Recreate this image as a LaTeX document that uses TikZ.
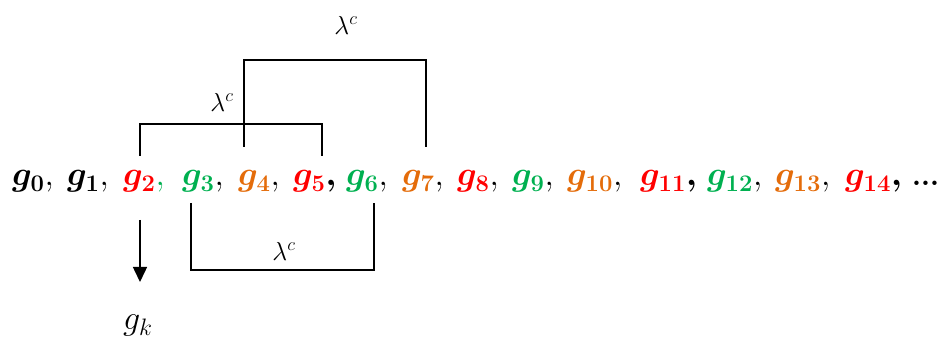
\RequirePackage{fix-cm}
\documentclass[tikz,border=0pt]{standalone}
\usepackage{amsmath,bm}
\usetikzlibrary{arrows.meta}
\definecolor{seqred}{RGB}{255,0,0}
\definecolor{seqgreen}{RGB}{0,176,80}
\definecolor{seqorange}{RGB}{228,108,10}

\begin{document}
\begin{tikzpicture}[
        x=1pt, y=1pt,
        every node/.style={inner sep=0pt},
        term/.style={anchor=base west, font=\fontsize{34}{40}\selectfont},
        lbl/.style={font=\fontsize{26}{30}\selectfont},
        bracket/.style={line width=1.5pt},
        arrow/.style={-{Triangle[length=15pt, width=14pt]}, line width=1.5pt}
    ]
        \useasboundingbox (0,0) rectangle (939,345);

        % Sequence of terms
        \node[term] (g0) at (12,159) {$\bm{g}_{\mathbf{0}},$};
        \node[term] (g1) at (67,159) {$\bm{g}_{\mathbf{1}},$};
        \node[term, text=seqred] (g2) at (123,159) {$\bm{g}_{\mathbf{2}}\textcolor{seqgreen}{,}$};
        \node[term, text=seqgreen] (g3) at (182,159) {$\bm{g}_{\mathbf{3}}\textcolor{black}{,}$};
        \node[term, text=seqorange] (g4) at (238,159) {$\bm{g}_{\mathbf{4}}\textcolor{black}{,}$};
        \node[term, text=seqred] (g5) at (293,159) {$\bm{g}_{\mathbf{5}}\textcolor{black}{\bm{,}}$};
        \node[term, text=seqgreen] (g6) at (346,159) {$\bm{g}_{\mathbf{6}}\textcolor{black}{,}$};
        \node[term, text=seqorange] (g7) at (402,159) {$\bm{g}_{\mathbf{7}}\textcolor{black}{,}$};
        \node[term, text=seqred] (g8) at (457,159) {$\bm{g}_{\mathbf{8}}\textcolor{black}{,}$};
        \node[term, text=seqgreen] (g9) at (512,159) {$\bm{g}_{\mathbf{9}}\textcolor{black}{,}$};
        \node[term, text=seqorange] (g10) at (567,159) {$\bm{g}_{\mathbf{10}}\textcolor{black}{,}$};
        \node[term, text=seqred] (g11) at (640,159) {$\bm{g}_{\mathbf{11}}\textcolor{black}{\bm{,}}$};
        \node[term, text=seqgreen] (g12) at (707,159) {$\bm{g}_{\mathbf{12}}\textcolor{black}{,}$};
        \node[term, text=seqorange] (g13) at (775,159) {$\bm{g}_{\mathbf{13}}\textcolor{black}{,}$};
        \node[term, text=seqred] (g14) at (845,159) {$\bm{g}_{\mathbf{14}}\textcolor{black}{\bm{,}}$};
        \node[term, font=\fontsize{28}{32}\selectfont] (dots) at (912,159) {$\bm{.}\bm{.}\bm{.}$};

        % Bracket ends
        \coordinate (b1l) at (140,189);
        \coordinate (b1r) at (322,189);
        \coordinate (b2l) at (244,198);
        \coordinate (b2r) at (426,198);
        \coordinate (b3l) at (191,142);
        \coordinate (b3r) at (374,142);
        \coordinate (arrtop) at (140,125);
        \coordinate (arrtip) at (140,63);

        % Brackets
        \draw[bracket] (b1l) -- ++(0,32) -| (b1r);
        \draw[bracket] (b2l) -- ++(0,87) -| (b2r);
        \draw[bracket] (b3l) -- ++(0,-67) -| (b3r);

        % Bracket labels
        \node[lbl] (lam1) at (222,243) {$\lambda^c$};
        \node[lbl] (lam2) at (346,320) {$\lambda^c$};
        \node[lbl] (lam3) at (284,94) {$\lambda^c$};

        % Arrow to g_k
        \draw[arrow] (arrtop) -- (arrtip);
        \node[term] (gk) at (123,15) {$g_k$};

    \end{tikzpicture}
\end{document}
